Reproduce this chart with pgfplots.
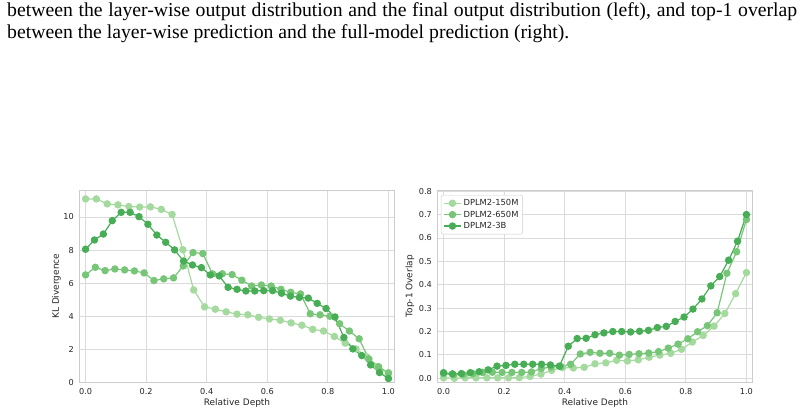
\documentclass[border=0pt]{standalone}
\usepackage{fontspec}
\setmainfont{Liberation Serif}
\newfontfamily\dejavu{DejaVu Sans}
\usepackage{pgfplots}
\pgfplotsset{compat=1.18}
\usepackage{pgfplotstable}
\definecolor{cA}{HTML}{A4DA9E}
\definecolor{cB}{HTML}{77C677}
\definecolor{cC}{HTML}{47AE55}
\definecolor{gridc}{HTML}{DBDBDB}
\definecolor{spinec}{HTML}{CCCCCC}
\definecolor{txt}{HTML}{262626}

% DPLM2-150M
\pgfplotstableread{
x kl top
0 11.09 0.002
0.0357 11.09 0.000
0.0714 10.79 0.002
0.1071 10.73 0.002
0.1429 10.63 0.002
0.1786 10.60 0.002
0.2143 10.61 0.002
0.25 10.46 0.003
0.2857 10.15 0.008
0.3214 8.02 0.018
0.3571 5.59 0.034
0.3929 4.57 0.046
0.4286 4.43 0.044
0.4643 4.27 0.047
0.5 4.13 0.062
0.5357 4.09 0.066
0.5714 3.94 0.077
0.6071 3.84 0.074
0.6429 3.76 0.079
0.6786 3.60 0.090
0.7143 3.46 0.099
0.75 3.21 0.107
0.7857 3.11 0.124
0.8214 2.78 0.155
0.8571 2.38 0.183
0.8929 2.03 0.223
0.9286 1.55 0.277
0.9643 0.96 0.362
1 0.60 0.452
}\tA

% DPLM2-650M
\pgfplotstableread{
x kl top
0 6.50 0.020
0.0323 6.96 0.015
0.0645 6.76 0.016
0.0968 6.86 0.020
0.129 6.80 0.025
0.1613 6.74 0.026
0.1935 6.62 0.025
0.2258 6.16 0.025
0.2581 6.26 0.025
0.2903 6.32 0.027
0.3226 7.04 0.042
0.3548 7.85 0.048
0.3871 7.79 0.050
0.4194 6.56 0.060
0.4516 6.57 0.104
0.4839 6.52 0.111
0.5161 6.18 0.107
0.5484 5.83 0.107
0.5806 5.89 0.099
0.6129 5.83 0.102
0.6452 5.63 0.105
0.6774 5.45 0.108
0.7097 5.35 0.114
0.7419 4.15 0.129
0.7742 4.09 0.146
0.8065 4.00 0.169
0.8387 3.55 0.199
0.871 3.11 0.225
0.9032 2.64 0.280
0.9355 1.42 0.449
0.9677 0.95 0.541
1 0.55 0.679
}\tB

% DPLM2-3B
\pgfplotstableread{
x kl top
0 8.05 0.024
0.0294 8.61 0.019
0.0588 8.97 0.020
0.0882 9.78 0.024
0.1176 10.28 0.028
0.1471 10.28 0.036
0.1765 10.02 0.052
0.2059 9.56 0.055
0.2353 8.91 0.060
0.2647 8.47 0.060
0.2941 8.01 0.060
0.3235 7.34 0.060
0.3529 7.10 0.057
0.3824 6.94 0.052
0.4118 6.50 0.137
0.4412 6.44 0.170
0.4706 5.75 0.171
0.5 5.63 0.186
0.5294 5.53 0.194
0.5588 5.53 0.200
0.5882 5.55 0.200
0.6176 5.55 0.198
0.6471 5.39 0.201
0.6765 5.22 0.205
0.7059 5.14 0.217
0.7353 5.10 0.222
0.7647 4.78 0.243
0.7941 4.47 0.262
0.8235 3.96 0.296
0.8529 2.72 0.339
0.8824 2.03 0.395
0.9118 1.63 0.435
0.9412 1.06 0.505
0.9706 0.60 0.586
1 0.24 0.700
}\tC

\pgfplotsset{
 myax/.style={
  scale only axis, width=315bp, height=192.5bp,
  anchor=south west,
  xmin=-0.02, xmax=1.02,
  xtick={0,0.2,0.4,0.6,0.8,1.0},
  xticklabel={\pgfmathprintnumber[fixed,fixed zerofill,precision=1]{\tick}},
  grid=major, grid style={gridc, line width=0.9bp},
  axis line style={spinec, line width=0.9bp},
  major tick length=0pt,
  /pgf/number format/assume math mode=true,
  tick label style={font=\dejavu\fontsize{8.2}{9}\selectfont, text=txt, inner sep=0pt},
  xticklabel style={yshift=-5.5bp},
  yticklabel style={xshift=-5.5bp},
  label style={font=\dejavu\fontsize{9}{10}\selectfont, text=txt},
  xlabel style={at={(axis description cs:0.5,-0.109)}, anchor=center},
  every axis plot/.append style={line width=1.2bp, mark=*, mark size=3.1bp},
 }
}

\begin{document}
\begin{tikzpicture}
\path[use as bounding box] (0,0) rectangle (804bp,415bp);
\node[anchor=base west, inner sep=0pt] at (7bp,398.3bp) {\fontsize{19.8}{22}\selectfont\makebox[790bp][s]{between the layer-wise output distribution and the final output distribution (left), and top-1 overlap}};
\node[anchor=base west, inner sep=0pt] at (7bp,376.7bp) {\fontsize{19.8}{22}\selectfont between the layer-wise prediction and the full-model prediction (right).};

\begin{axis}[myax, at={(79.5bp,32.5bp)},
  ymin=0, ymax=11.63, ytick={0,2,4,6,8,10},
  xlabel={Relative Depth}, ylabel={KL Divergence},
  ylabel style={at={(axis description cs:-0.073,0.5)}, anchor=center},
]
\addplot[cA, mark options={fill=cA, draw=cA}] table[x=x, y=kl]{\tA};
\addplot[cB, mark options={fill=cB, draw=cB}] table[x=x, y=kl]{\tB};
\addplot[cC, mark options={fill=cC, draw=cC}] table[x=x, y=kl]{\tC};
\end{axis}

\begin{axis}[myax, at={(437.5bp,32.5bp)},
  ymin=-0.018, ymax=0.805, ytick={0,0.1,0.2,0.3,0.4,0.5,0.6,0.7,0.8},
  yticklabel={\pgfmathprintnumber[fixed,fixed zerofill,precision=1]{\tick}},
  xlabel={Relative Depth}, ylabel={Top-1 Overlap},
  ylabel style={at={(axis description cs:-0.0873,0.5)}, anchor=center},
  legend style={at={(rel axis cs:0.011,0.974)}, anchor=north west, draw=spinec, rounded corners=2bp, fill=white, font=\dejavu\fontsize{8.4}{9}\selectfont, text=txt, inner sep=2.2bp, row sep=-0.3bp},
  legend cell align=left,
]
\addplot[cA, mark options={fill=cA, draw=cA}] table[x=x, y=top]{\tA};
\addplot[cB, mark options={fill=cB, draw=cB}] table[x=x, y=top]{\tB};
\addplot[cC, mark options={fill=cC, draw=cC}] table[x=x, y=top]{\tC};
\legend{DPLM2-150M, DPLM2-650M, DPLM2-3B}
\end{axis}
\end{tikzpicture}
\end{document}
